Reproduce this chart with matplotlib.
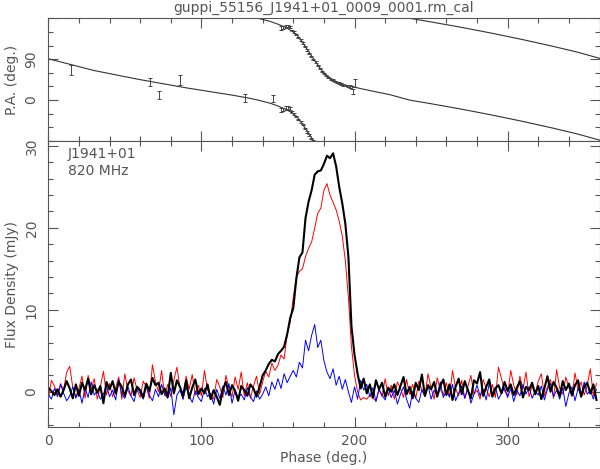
import matplotlib
matplotlib.use("Agg")
import matplotlib.pyplot as plt
import numpy as np
from matplotlib.ticker import MultipleLocator, FixedLocator, FuncFormatter

# perfil de pulso, bins de 2 grados (0..358)
fase = np.arange(0, 360, 2)

stokes_i = [
    0.5, 0.1, -0.4, 0.3, -0.6, 0.2, 1.3, 0.4, -0.8, 0.9,
    -0.5, 1.1, 0.2, 1.6, -0.3, 0.8, -0.1, 0.7, -1.4, 1.2,
    0.3, 1.3, -0.2, 1.2, 0.6, -0.5, 0.9, 1.5, -0.4, 0.6,
    0.2, -0.7, 1.0, 0.1, 1.7, 0.8, 1.1, -0.3, 0.4, -0.6,
    2.3, -0.2, 1.4, 0.6, -0.5, 1.4, -0.8, 0.5, 1.5, -0.3,
    0.4, -0.2, 0.9, -0.9, 0.2, -0.6, -1.6, 0.3, 1.2, -0.4,
    0.8, 0.1, -1.1, 0.7, 0.2, -0.5, 0.9, 0.4, -0.6, 0.6,
    2.0, 2.6, 3.4, 3.9, 3.7, 4.6, 5.0, 5.5, 7.0, 9.0,
    10.2, 13.8, 16.4, 17.0, 21.2, 23.2, 24.6, 26.5, 26.9, 27.0,
    27.8, 28.8, 28.5, 29.1, 27.5, 25.0, 23.0, 20.5, 16.5, 8.0,
    4.5, 2.2, 0.4, 1.6, -0.2, 0.9, -0.7, 1.4, 0.3, 1.1,
    -0.6, 0.5, 0.0, 0.9, -0.4, 0.7, 1.8, -0.3, 0.6, -0.8,
    1.1, 0.2, 2.1, -0.5, 0.8, 0.3, 1.2, -0.6, 0.7, 1.5,
    -0.4, 0.9, -1.0, 0.6, 1.6, -0.3, 1.3, 0.2, -0.8, 1.4,
    1.0, 2.4, -0.5, 0.6, 1.5, -0.6, 0.4, 0.8, -0.2, 1.2,
    0.1, 0.9, -0.4, 0.5, 1.3, -0.7, 0.6, 0.2, 1.1, -0.3,
    0.7, -0.9, 0.4, 1.9, 0.0, 1.2, 0.5, -0.5, 1.3, 0.2,
    1.0, -0.4, 0.8, 1.4, -0.6, 0.6, 1.1, -0.2, 0.9, -1.0,
]

lineal = [
    -0.9, 1.4, 0.7, -0.4, 1.0, 0.2, 2.4, 3.1, 0.5, -0.6,
    0.4, 1.9, -0.8, 2.0, 0.3, 1.6, -0.9, 0.6, 2.5, -0.4,
    1.0, -0.6, 0.5, 1.8, -0.9, 2.2, 0.1, -0.5, 1.7, 0.2,
    -0.7, 1.3, 0.6, -0.8, 3.3, 1.2, 0.0, 2.6, -0.5, 0.9,
    -0.6, 1.4, 3.0, 0.5, -0.9, 1.9, 0.3, 2.1, -0.4, 0.8,
    -0.5, 2.6, 0.2, -0.3, -0.9, 1.5, 0.6, -0.7, 2.0, 0.4,
    -0.6, 1.8, 0.3, 2.4, -0.5, 1.1, -0.8, 0.7, 1.9, -0.3,
    1.2, 2.5, 1.8, 3.5, 2.6, 3.2, 4.5, 4.0, 7.0, 8.5,
    11.5, 14.0, 14.7, 15.0, 16.5, 17.5, 18.3, 20.0, 21.8, 22.4,
    24.6, 25.4, 24.0, 23.1, 22.2, 20.8, 19.0, 16.0, 11.5, 5.5,
    2.0, 0.0, -1.0, -0.7, -0.9, -0.4, -0.8, -1.1, 0.3, -0.6,
    1.6, -0.5, 0.8, -0.9, 1.2, 0.4, -0.7, 1.5, -0.3, 0.9,
    -0.8, 1.3, 0.2, -0.6, 2.2, 0.5, -0.9, 1.7, 0.3, -0.4,
    1.1, -0.7, 2.6, 0.4, -0.5, 1.4, -0.8, 0.6, 2.0, -0.3,
    0.2, -0.9, 1.5, 0.4, -0.6, 0.9, -0.7, 3.0, 1.6, 0.1,
    -0.5, 2.6, 0.8, -0.4, 1.9, 0.3, 2.4, -0.6, 0.7, -0.2,
    1.3, 2.2, -0.5, 0.6, 1.5, -0.8, 2.7, 0.4, -0.3, 1.8,
    0.5, -0.6, 2.3, 0.2, 1.2, -0.4, 0.8, 2.8, -0.5, 1.0,
]

circular = [
    -0.3, -0.9, 0.4, -0.6, 0.9, -0.2, -1.1, -0.5, 0.6, -0.8,
    0.3, -1.4, 0.5, -0.7, 1.2, -0.4, 0.1, -0.9, -0.3, 0.8,
    -0.6, 0.2, -1.0, 1.5, -0.3, -0.8, 0.6, -0.5, -1.2, 0.4,
    -0.2, -0.9, 0.7, -0.4, -1.1, 0.3, -0.6, 0.9, -0.3, -0.8,
    0.5, -2.8, -0.4, 0.2, -0.9, 0.6, -0.5, -1.3, 0.1, -0.7,
    -1.2, 0.4, -0.6, -0.2, -1.5, 0.3, -0.8, 0.7, -0.4, 1.0,
    -1.4, 0.2, -0.7, -0.3, -1.0, 0.5, -0.6, -1.2, 0.1, -0.9,
    -0.3, 0.6, -0.5, 1.2, 0.3, 1.6, 0.4, 2.2, 1.1, 1.9,
    2.6, 1.8, 3.6, 2.9, 6.3, 5.0, 6.9, 8.2, 5.4, 6.3,
    3.8, 2.4, 1.6, 2.8, 0.8, 1.9, 0.3, 1.5, 0.0, -1.3,
    0.6, -0.9, 1.4, 0.2, 0.9, -0.6, 0.5, -1.2, 0.3, -0.4,
    -1.0, 0.4, -0.7, 0.2, -1.5, -0.3, 0.6, -0.9, -2.0, 0.1,
    -0.8, -1.3, 0.3, -0.5, 0.8, -0.9, 0.2, -0.4, 1.2, -0.7,
    0.1, -0.6, 0.9, -1.1, -0.2, 0.7, -0.8, 0.4, -1.4, -0.3,
    0.8, -0.5, 0.3, -1.0, 1.1, -0.4, 0.6, -0.9, -0.2, 0.5,
    -0.7, 0.4, -1.2, 0.2, -0.5, 0.9, -0.3, 0.6, -0.8, 0.1,
    -0.4, 0.7, -1.0, 0.3, 1.0, -0.6, 0.2, -0.9, 0.5, -1.8,
    -0.2, 0.6, -1.1, 0.4, -0.5, 1.2, -0.3, 0.2, -0.9, 0.3,
]

# curva del modelo de P.A. (sin envolver)
curva_fase = [0, 15, 30, 45, 60, 75, 90, 105, 120, 130, 137, 145, 150, 155,
              160, 163, 166, 169, 172, 175, 178, 181, 184, 188, 193, 199,
              210, 223, 236, 250, 270, 290, 310, 330, 345, 360]
curva_pa = [91, 78, 65, 55, 45, 36, 27, 19, 11, 5, 0, -7, -13, -20,
            -30, -39, -53, -68, -83, -98, -112, -123, -131, -139, -146, -151,
            -159, -168, -180, -188, -200, -213, -227, -242, -254, -268]

# puntos medidos de P.A. con error
pa_fase = [14.6, 66.7, 72.4, 86.0, 128.4, 146.7, 152.0, 153.4, 155.0, 156.4,
           157.8, 159.2, 160.6, 162.0, 163.4, 164.8, 166.2, 167.6, 169.0, 170.4,
           171.8, 173.2, 174.6, 176.0, 177.4, 178.8, 180.2, 181.6, 183.0, 184.4,
           185.8, 187.2, 188.6, 190.0, 191.4, 192.8, 194.2, 195.6, 197.0, 198.4,
           199.0, 200.0]
pa_val = [66, 40, 11, 44, 5.5, 4, -22, -20, -18, -17,
          -19, -27, -31, -36, -42, -48, -54, -62, -70, -77,
          -84, -90, 84, 76, 70, 63, 58, 54, 50, 46,
          44, 41, 39, 37, 35, 34, 32, 31, 30, 28,
          20, 37.5]
pa_err = [11, 8.5, 9.5, 11, 9, 7.5, 4, 3, 4, 3,
          3, 2, 2, 1.5, 1.5, 1.5, 1.5, 1.5, 1.5, 1.5,
          1.5, 1.5, 1.5, 1.5, 1.5, 1.5, 1.5, 1.5, 1.5, 1.5,
          1.5, 1.5, 1.5, 2, 2, 2, 2, 2, 2.5, 3,
          5.5, 8]

gris = "#555555"
plt.rcParams["font.family"] = "DejaVu Sans"
plt.rcParams["font.size"] = 10

fig = plt.figure(figsize=(6.0, 4.69), dpi=100)
W, H = 600.0, 469.0
x0, x1 = 48.3 / W, 599.5 / W
ax_pa = fig.add_axes([x0, 1 - 141 / H, x1 - x0, (141 - 18.3) / H])
ax = fig.add_axes([x0, 1 - 427 / H, x1 - x0, (427 - 141) / H])

# panel superior: angulo de posicion
for off in (0, 180, 360):
    ax_pa.plot(curva_fase, np.array(curva_pa) + off, color="#333333", lw=0.8)
pf = np.array(pa_fase)
pv = np.array(pa_val, dtype=float)
pe = np.array(pa_err, dtype=float)
for off in (-180, 0, 180):
    m = (pv + off >= -90) & (pv + off <= 180)
    ax_pa.errorbar(pf[m], pv[m] + off, yerr=pe[m], fmt="none",
                   ecolor="#444444", elinewidth=0.7, capsize=1.4, capthick=0.7)
ax_pa.set_xlim(0, 360)
ax_pa.set_ylim(-90, 180)
ax_pa.yaxis.set_major_locator(FixedLocator([-90, 0, 90, 180]))
ax_pa.yaxis.set_major_formatter(FuncFormatter(lambda v, p: "%d" % v if v in (0, 90) else ""))
ax_pa.yaxis.set_minor_locator(MultipleLocator(30))
ax_pa.set_xticklabels([])

# panel inferior: perfil
ax.plot(fase, lineal, color="#ff0000", lw=0.7)
ax.plot(fase, circular, color="#0000ff", lw=0.7)
ax.plot(fase, stokes_i, color="black", lw=1.5)
ax.set_xlim(0, 360)
ax.set_ylim(-4.3, 30.6)
ax.yaxis.set_major_locator(MultipleLocator(10))
ax.yaxis.set_minor_locator(MultipleLocator(2))

for a in (ax_pa, ax):
    a.xaxis.set_major_locator(MultipleLocator(100))
    a.xaxis.set_minor_locator(MultipleLocator(20))
    a.tick_params(which="both", direction="in", top=True, right=True,
                  color=gris, labelcolor=gris, width=0.8)
    a.tick_params(which="major", length=7)
    a.tick_params(which="minor", length=3.5)
    a.tick_params(axis="y", pad=7)
    a.tick_params(axis="x", pad=5)
    for s in a.spines.values():
        s.set_color(gris)
        s.set_linewidth(0.8)
    plt.setp(a.get_yticklabels(), rotation=90, va="center")

ax.text(0.035, 0.955, "J1941+01", transform=ax.transAxes, color=gris, va="center")
ax.text(0.035, 0.895, "820 MHz", transform=ax.transAxes, color=gris, va="center")

fig.text(12 / W, 1 - 80 / H, "P.A. (deg.)", rotation=90, ha="center", va="center", color=gris)
fig.text(12 / W, 1 - 284 / H, "Flux Density (mJy)", rotation=90, ha="center", va="center", color=gris)
fig.text(324 / W, 1 - 458 / H, "Phase (deg.)", ha="center", va="center", color=gris)
fig.text(324 / W, 1 - 8 / H, "guppi_55156_J1941+01_0009_0001.rm_cal", ha="center", va="center", color=gris)

fig.savefig("out.png", dpi=100)
